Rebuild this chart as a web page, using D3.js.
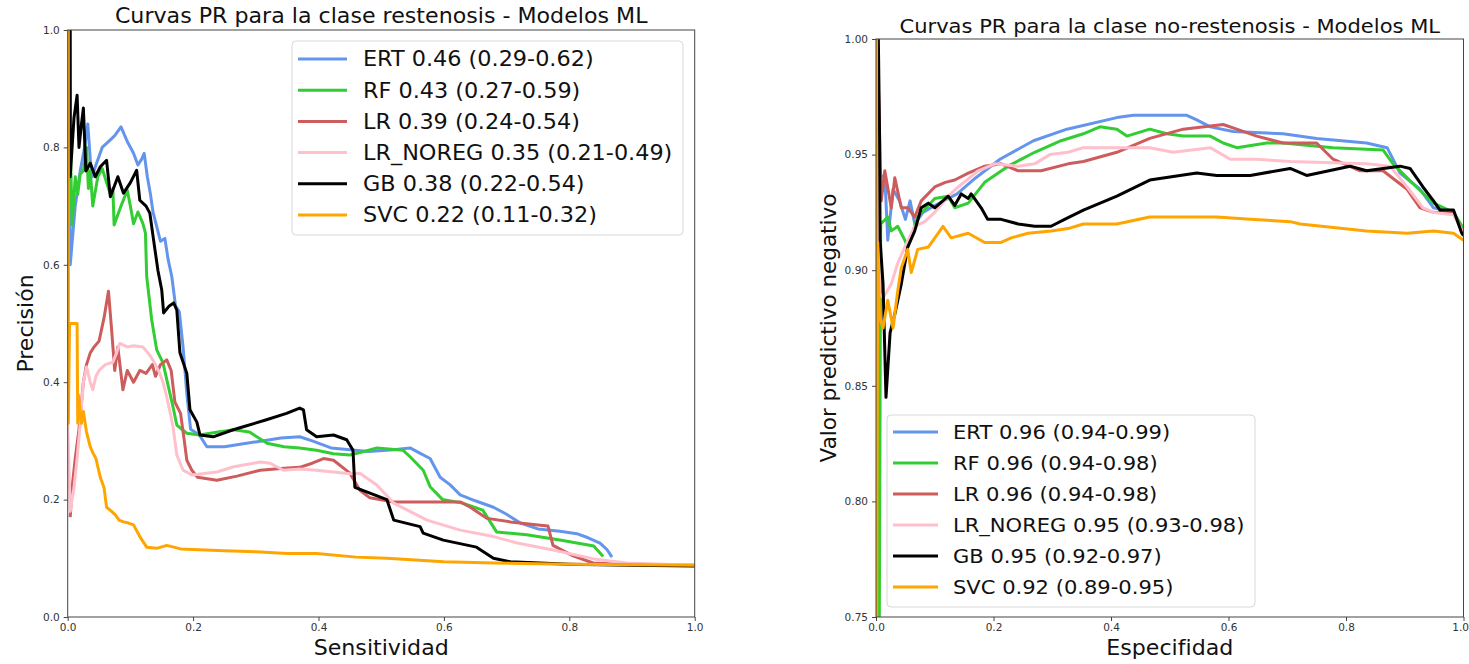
<!DOCTYPE html>
<html lang="es">
<head>
<meta charset="utf-8">
<title>Curvas PR - Modelos ML</title>
<script src="https://cdn.jsdelivr.net/npm/d3@7"></script>
<style>
  body { margin: 0; background: #fff; }
  text { font-family: "DejaVu Sans", sans-serif; }
</style>
</head>
<body>
<script>
// models, colours and legend texts
const models = ["ERT", "RF", "LR", "LR_NOREG", "GB", "SVC"];
const colors = ["#6495ED", "#32CD32", "#CD5C5C", "#FFC0CB", "#000000", "#FFA500"];
const legendRest = ["ERT 0.46 (0.29-0.62)", "RF 0.43 (0.27-0.59)", "LR 0.39 (0.24-0.54)",
                    "LR_NOREG 0.35 (0.21-0.49)", "GB 0.38 (0.22-0.54)", "SVC 0.22 (0.11-0.32)"];
const legendNoRest = ["ERT 0.96 (0.94-0.99)", "RF 0.96 (0.94-0.98)", "LR 0.96 (0.94-0.98)",
                      "LR_NOREG 0.95 (0.93-0.98)", "GB 0.95 (0.92-0.97)", "SVC 0.92 (0.89-0.95)"];
const xTicks = [0, 0.2, 0.4, 0.6, 0.8, 1.0];
const yTicksRest = [0, 0.2, 0.4, 0.6, 0.8, 1.0];
const yTicksNoRest = [0.75, 0.80, 0.85, 0.90, 0.95, 1.00];

// clase restenosis: [sensitividad, precision]
const ertRest = [[0,1.0],[0.003,1.0],[0.004,0.60],[0.012,0.70],[0.02,0.76],[0.027,0.80],[0.032,0.84],[0.036,0.78],[0.039,0.75],[0.045,0.77],[0.055,0.80],[0.065,0.81],[0.075,0.82],[0.085,0.835],[0.095,0.81],[0.105,0.79],[0.112,0.77],[0.118,0.78],[0.122,0.79],[0.127,0.75],[0.132,0.72],[0.136,0.69],[0.142,0.665],[0.148,0.64],[0.155,0.645],[0.16,0.61],[0.166,0.58],[0.172,0.53],[0.178,0.52],[0.184,0.46],[0.19,0.38],[0.196,0.32],[0.21,0.31],[0.222,0.29],[0.25,0.29],[0.28,0.295],[0.31,0.30],[0.34,0.305],[0.37,0.307],[0.39,0.30],[0.42,0.288],[0.45,0.285],[0.48,0.282],[0.52,0.285],[0.546,0.288],[0.56,0.28],[0.578,0.27],[0.594,0.238],[0.61,0.225],[0.626,0.208],[0.65,0.198],[0.679,0.187],[0.70,0.175],[0.722,0.16],[0.75,0.15],[0.785,0.146],[0.812,0.142],[0.83,0.135],[0.849,0.126],[0.86,0.115],[0.868,0.102]];
const rfRest = [[0,1.0],[0.003,1.0],[0.005,0.765],[0.007,0.668],[0.012,0.75],[0.016,0.72],[0.02,0.755],[0.025,0.76],[0.03,0.80],[0.033,0.73],[0.036,0.76],[0.04,0.70],[0.048,0.75],[0.055,0.764],[0.062,0.74],[0.068,0.72],[0.072,0.73],[0.074,0.668],[0.085,0.70],[0.095,0.727],[0.1,0.70],[0.105,0.67],[0.112,0.69],[0.12,0.67],[0.124,0.654],[0.126,0.58],[0.134,0.506],[0.142,0.455],[0.152,0.433],[0.16,0.395],[0.168,0.358],[0.174,0.327],[0.19,0.313],[0.21,0.31],[0.24,0.315],[0.265,0.319],[0.29,0.315],[0.318,0.296],[0.345,0.29],[0.37,0.288],[0.397,0.284],[0.424,0.278],[0.45,0.276],[0.466,0.28],[0.493,0.288],[0.535,0.284],[0.546,0.273],[0.567,0.25],[0.578,0.222],[0.598,0.20],[0.63,0.194],[0.662,0.182],[0.684,0.145],[0.732,0.14],[0.785,0.131],[0.839,0.121],[0.854,0.103]];
const lrRest = [[0.004,0.17],[0.007,0.22],[0.012,0.27],[0.018,0.32],[0.025,0.40],[0.03,0.43],[0.036,0.45],[0.042,0.46],[0.05,0.47],[0.058,0.51],[0.065,0.555],[0.07,0.49],[0.075,0.42],[0.08,0.46],[0.088,0.387],[0.095,0.42],[0.105,0.40],[0.115,0.42],[0.125,0.415],[0.135,0.43],[0.14,0.41],[0.148,0.43],[0.158,0.438],[0.165,0.42],[0.171,0.366],[0.18,0.347],[0.186,0.30],[0.19,0.267],[0.198,0.25],[0.207,0.238],[0.238,0.233],[0.27,0.24],[0.307,0.25],[0.34,0.253],[0.37,0.255],[0.39,0.262],[0.408,0.27],[0.424,0.267],[0.45,0.245],[0.466,0.216],[0.482,0.203],[0.52,0.196],[0.60,0.196],[0.626,0.196],[0.642,0.187],[0.669,0.168],[0.706,0.162],[0.758,0.156],[0.766,0.155],[0.774,0.122],[0.806,0.104],[0.838,0.092],[0.9,0.089],[1.0,0.088]];
const lrnRest = [[0,0.33],[0.004,0.18],[0.01,0.22],[0.015,0.27],[0.02,0.33],[0.025,0.40],[0.03,0.426],[0.036,0.40],[0.04,0.387],[0.045,0.41],[0.05,0.42],[0.06,0.43],[0.072,0.434],[0.078,0.45],[0.083,0.466],[0.095,0.46],[0.105,0.462],[0.12,0.46],[0.131,0.446],[0.14,0.43],[0.147,0.415],[0.152,0.40],[0.158,0.375],[0.163,0.35],[0.168,0.324],[0.174,0.276],[0.184,0.25],[0.198,0.242],[0.238,0.247],[0.265,0.256],[0.307,0.264],[0.323,0.262],[0.344,0.25],[0.37,0.252],[0.397,0.25],[0.45,0.244],[0.466,0.245],[0.493,0.225],[0.52,0.194],[0.573,0.165],[0.626,0.148],[0.679,0.137],[0.717,0.126],[0.774,0.114],[0.839,0.099],[0.891,0.092],[1.0,0.088]];
const gbRest = [[0,1.0],[0.004,1.0],[0.004,0.75],[0.01,0.85],[0.015,0.889],[0.018,0.80],[0.022,0.84],[0.025,0.867],[0.029,0.76],[0.036,0.773],[0.044,0.75],[0.052,0.767],[0.062,0.778],[0.068,0.716],[0.08,0.75],[0.089,0.722],[0.1,0.74],[0.11,0.761],[0.115,0.71],[0.125,0.70],[0.131,0.688],[0.137,0.642],[0.144,0.59],[0.15,0.557],[0.153,0.518],[0.162,0.53],[0.169,0.535],[0.174,0.523],[0.179,0.45],[0.19,0.415],[0.195,0.353],[0.206,0.332],[0.211,0.31],[0.232,0.307],[0.264,0.319],[0.28,0.324],[0.317,0.336],[0.349,0.347],[0.37,0.356],[0.376,0.353],[0.381,0.319],[0.397,0.307],[0.424,0.31],[0.445,0.302],[0.455,0.284],[0.458,0.221],[0.482,0.211],[0.509,0.2],[0.52,0.165],[0.562,0.154],[0.567,0.143],[0.599,0.131],[0.652,0.119],[0.679,0.10],[0.706,0.094],[0.80,0.09],[0.9,0.088],[1.0,0.087]];
const svcRest = [[0,1.0],[0.001,1.0],[0.001,0.33],[0.003,0.50],[0.015,0.50],[0.016,0.33],[0.017,0.378],[0.022,0.33],[0.025,0.35],[0.03,0.315],[0.036,0.29],[0.04,0.28],[0.045,0.27],[0.052,0.238],[0.058,0.22],[0.062,0.187],[0.07,0.18],[0.076,0.174],[0.082,0.165],[0.089,0.162],[0.097,0.16],[0.105,0.157],[0.115,0.137],[0.126,0.119],[0.142,0.117],[0.158,0.122],[0.18,0.116],[0.2,0.115],[0.25,0.113],[0.3,0.111],[0.35,0.108],[0.397,0.108],[0.46,0.102],[0.509,0.10],[0.6,0.094],[0.68,0.092],[0.8,0.09],[0.9,0.089],[1.0,0.088]];

// clase no-restenosis: [especifidad, valor predictivo negativo]
const ertNoRest = [[0.002,1.0],[0.004,0.94],[0.015,0.941],[0.02,0.913],[0.029,0.935],[0.04,0.93],[0.05,0.922],[0.058,0.93],[0.066,0.92],[0.08,0.925],[0.1,0.928],[0.138,0.933],[0.17,0.94],[0.211,0.948],[0.268,0.956],[0.325,0.961],[0.41,0.966],[0.438,0.967],[0.495,0.967],[0.529,0.967],[0.546,0.965],[0.569,0.962],[0.608,0.96],[0.693,0.959],[0.75,0.957],[0.835,0.955],[0.87,0.953],[0.892,0.942],[0.926,0.935],[0.949,0.927],[0.983,0.925],[1.0,0.917]];
const rfNoRest = [[0.002,1.0],[0.005,0.70],[0.008,0.92],[0.02,0.923],[0.026,0.917],[0.037,0.919],[0.049,0.913],[0.054,0.91],[0.071,0.923],[0.1,0.931],[0.123,0.932],[0.134,0.927],[0.157,0.929],[0.185,0.938],[0.225,0.945],[0.27,0.951],[0.315,0.956],[0.353,0.959],[0.381,0.962],[0.41,0.961],[0.427,0.958],[0.466,0.961],[0.495,0.959],[0.523,0.958],[0.569,0.958],[0.591,0.955],[0.614,0.953],[0.665,0.955],[0.693,0.955],[0.778,0.953],[0.863,0.952],[0.88,0.946],[0.92,0.936],[0.949,0.929],[0.983,0.925],[1.0,0.918]];
const lrNoRest = [[0.002,1.0],[0.009,0.93],[0.015,0.943],[0.026,0.927],[0.032,0.94],[0.043,0.927],[0.054,0.927],[0.066,0.923],[0.077,0.93],[0.1,0.936],[0.118,0.938],[0.134,0.939],[0.157,0.942],[0.185,0.945],[0.213,0.946],[0.242,0.943],[0.281,0.943],[0.327,0.946],[0.353,0.947],[0.41,0.951],[0.466,0.957],[0.523,0.961],[0.591,0.963],[0.614,0.961],[0.648,0.958],[0.693,0.955],[0.75,0.955],[0.778,0.948],[0.824,0.943],[0.863,0.943],[0.904,0.935],[0.926,0.927],[0.949,0.925],[0.983,0.925],[1.0,0.916]];
const lrnNoRest = [[0.002,1.0],[0.006,0.89],[0.012,0.888],[0.026,0.894],[0.037,0.903],[0.049,0.91],[0.066,0.919],[0.083,0.921],[0.1,0.925],[0.123,0.932],[0.14,0.936],[0.174,0.943],[0.202,0.946],[0.242,0.945],[0.27,0.946],[0.296,0.95],[0.327,0.951],[0.353,0.953],[0.41,0.953],[0.466,0.953],[0.506,0.951],[0.569,0.953],[0.603,0.948],[0.648,0.948],[0.705,0.947],[0.835,0.946],[0.875,0.945],[0.904,0.936],[0.931,0.927],[0.949,0.925],[0.983,0.924],[1.0,0.916]];
const gbNoRest = [[0.004,1.0],[0.006,0.96],[0.007,0.913],[0.012,0.894],[0.017,0.845],[0.024,0.873],[0.032,0.881],[0.043,0.894],[0.054,0.91],[0.066,0.917],[0.077,0.927],[0.089,0.929],[0.1,0.927],[0.123,0.932],[0.134,0.928],[0.145,0.933],[0.157,0.931],[0.162,0.933],[0.179,0.927],[0.19,0.922],[0.213,0.922],[0.242,0.92],[0.27,0.919],[0.298,0.919],[0.321,0.922],[0.353,0.926],[0.41,0.932],[0.466,0.939],[0.546,0.942],[0.58,0.941],[0.637,0.941],[0.705,0.944],[0.733,0.941],[0.807,0.945],[0.835,0.943],[0.892,0.945],[0.909,0.944],[0.931,0.936],[0.949,0.93],[0.96,0.926],[0.983,0.926],[0.997,0.916],[1.0,0.915]];
const svcNoRest = [[0.001,1.0],[0.001,0.74],[0.003,0.912],[0.006,0.88],[0.012,0.875],[0.02,0.887],[0.029,0.875],[0.037,0.891],[0.043,0.901],[0.054,0.909],[0.06,0.899],[0.071,0.909],[0.089,0.91],[0.106,0.916],[0.114,0.919],[0.128,0.914],[0.157,0.916],[0.185,0.912],[0.213,0.912],[0.23,0.914],[0.259,0.916],[0.298,0.917],[0.327,0.918],[0.353,0.92],[0.41,0.92],[0.466,0.923],[0.523,0.923],[0.58,0.923],[0.637,0.922],[0.705,0.921],[0.722,0.92],[0.835,0.917],[0.904,0.916],[0.949,0.917],[0.983,0.916],[1.0,0.913]];

const width = 1469, height = 664;
const stretch = 1.08;   // the figure is a bit wider than tall

const svg = d3.select("body").append("svg")
  .attr("width", width)
  .attr("height", height);

function addText(g, x, y, str, size, anchor, rotate) {
  const tf = rotate ? `translate(${x},${y}) rotate(${rotate})`
                    : `translate(${x},${y}) scale(${stretch},1)`;
  g.append("text")
    .attr("transform", tf)
    .attr("text-anchor", anchor)
    .attr("fill", "#111")
    .style("font-size", size + "px")
    .text(str);
}

function drawPanel(p) {
  const x = d3.scaleLinear().domain([0, 1]).range([p.left, p.right]);
  const y = d3.scaleLinear().domain(p.yDomain).range([p.bottom, p.top]);
  const g = svg.append("g");

  g.append("clipPath").attr("id", p.id)
    .append("rect")
    .attr("x", p.left).attr("y", p.top)
    .attr("width", p.right - p.left).attr("height", p.bottom - p.top);

  const line = d3.line().x(d => x(d[0])).y(d => y(d[1]));
  g.append("g").attr("clip-path", `url(#${p.id})`)
    .selectAll("path").data(p.series).enter().append("path")
    .attr("d", d => line(d))
    .attr("fill", "none")
    .attr("stroke", (d, i) => colors[i])
    .attr("stroke-width", 3)
    .attr("stroke-linejoin", "round");

  const xAxis = g.append("g").attr("transform", `translate(0,${p.bottom})`)
    .call(d3.axisBottom(x).tickValues(xTicks).tickFormat(d3.format(".1f")).tickSize(4).tickPadding(3));
  const yAxis = g.append("g").attr("transform", `translate(${p.left},0)`)
    .call(d3.axisLeft(y).tickValues(p.yTicks).tickFormat(d3.format(".2f")).tickFormat(d3.format(p.yFormat)).tickSize(4).tickPadding(4));
  [xAxis, yAxis].forEach(a => {
    a.select(".domain").remove();
    a.selectAll("line").attr("stroke", "#444");
    a.selectAll("text").attr("fill", "#333").style("font-size", "10.5px")
      .style("font-family", '"DejaVu Sans", sans-serif');
  });
  // keep the last x label inside the page
  if (p.right > width - 12) {
    xAxis.selectAll(".tick:last-of-type text").attr("text-anchor", "end").attr("x", width - p.right - 0.5);
  }

  g.append("rect")
    .attr("x", p.left).attr("y", p.top)
    .attr("width", p.right - p.left).attr("height", p.bottom - p.top)
    .attr("fill", "none").attr("stroke", "#444").attr("stroke-width", 1);

  const cx = (p.left + p.right) / 2;
  addText(g, cx, p.titleY, p.title, p.titleSize, "middle");
  addText(g, cx, 655, p.xLabel, 20.5, "middle");
  addText(g, p.yLabelX, (p.top + p.bottom) / 2, p.yLabel, p.yLabelSize, "middle", -90);

  // legend
  const L = p.legend;
  const lg = g.append("g");
  lg.append("rect")
    .attr("x", L.x).attr("y", L.y).attr("width", L.w).attr("height", L.h)
    .attr("rx", 4)
    .attr("fill", "#fff").attr("fill-opacity", 0.85)
    .attr("stroke", "#d8d8d8");
  p.labels.forEach((lab, i) => {
    const cy = L.y + L.first + i * L.step;
    lg.append("line")
      .attr("x1", L.x + 6).attr("x2", L.x + 6 + L.lineLen)
      .attr("y1", cy).attr("y2", cy)
      .attr("stroke", colors[i]).attr("stroke-width", 3);
    addText(lg, L.x + L.textDx, cy + L.size * 0.36, lab, L.size, "start");
  });
}

drawPanel({
  id: "clipRest", left: 67.7, right: 694.7, top: 30, bottom: 617,
  yDomain: [0, 1], yTicks: yTicksRest, yFormat: ".1f",
  series: [ertRest, rfRest, lrRest, lrnRest, gbRest, svcRest],
  labels: legendRest,
  title: "Curvas PR para la clase restenosis - Modelos ML", titleY: 23, titleSize: 20.5,
  xLabel: "Sensitividad", yLabel: "Precisión", yLabelX: 33, yLabelSize: 22,
  legend: { x: 292, y: 41, w: 391, h: 194, first: 18, step: 31.2, lineLen: 49, textDx: 71, size: 20.7 }
});

drawPanel({
  id: "clipNoRest", left: 876, right: 1463.5, top: 39, bottom: 617,
  yDomain: [0.75, 1.0], yTicks: yTicksNoRest, yFormat: ".2f",
  series: [ertNoRest, rfNoRest, lrNoRest, lrnNoRest, gbNoRest, svcNoRest],
  labels: legendNoRest,
  title: "Curvas PR para la clase no-restenosis - Modelos ML", titleY: 33, titleSize: 19.5,
  xLabel: "Especifidad", yLabel: "Valor predictivo negativo", yLabelX: 836, yLabelSize: 21.5,
  legend: { x: 887, y: 415, w: 368, h: 192, first: 17, step: 31, lineLen: 45, textDx: 66, size: 19.5 }
});
</script>
</body>
</html>
